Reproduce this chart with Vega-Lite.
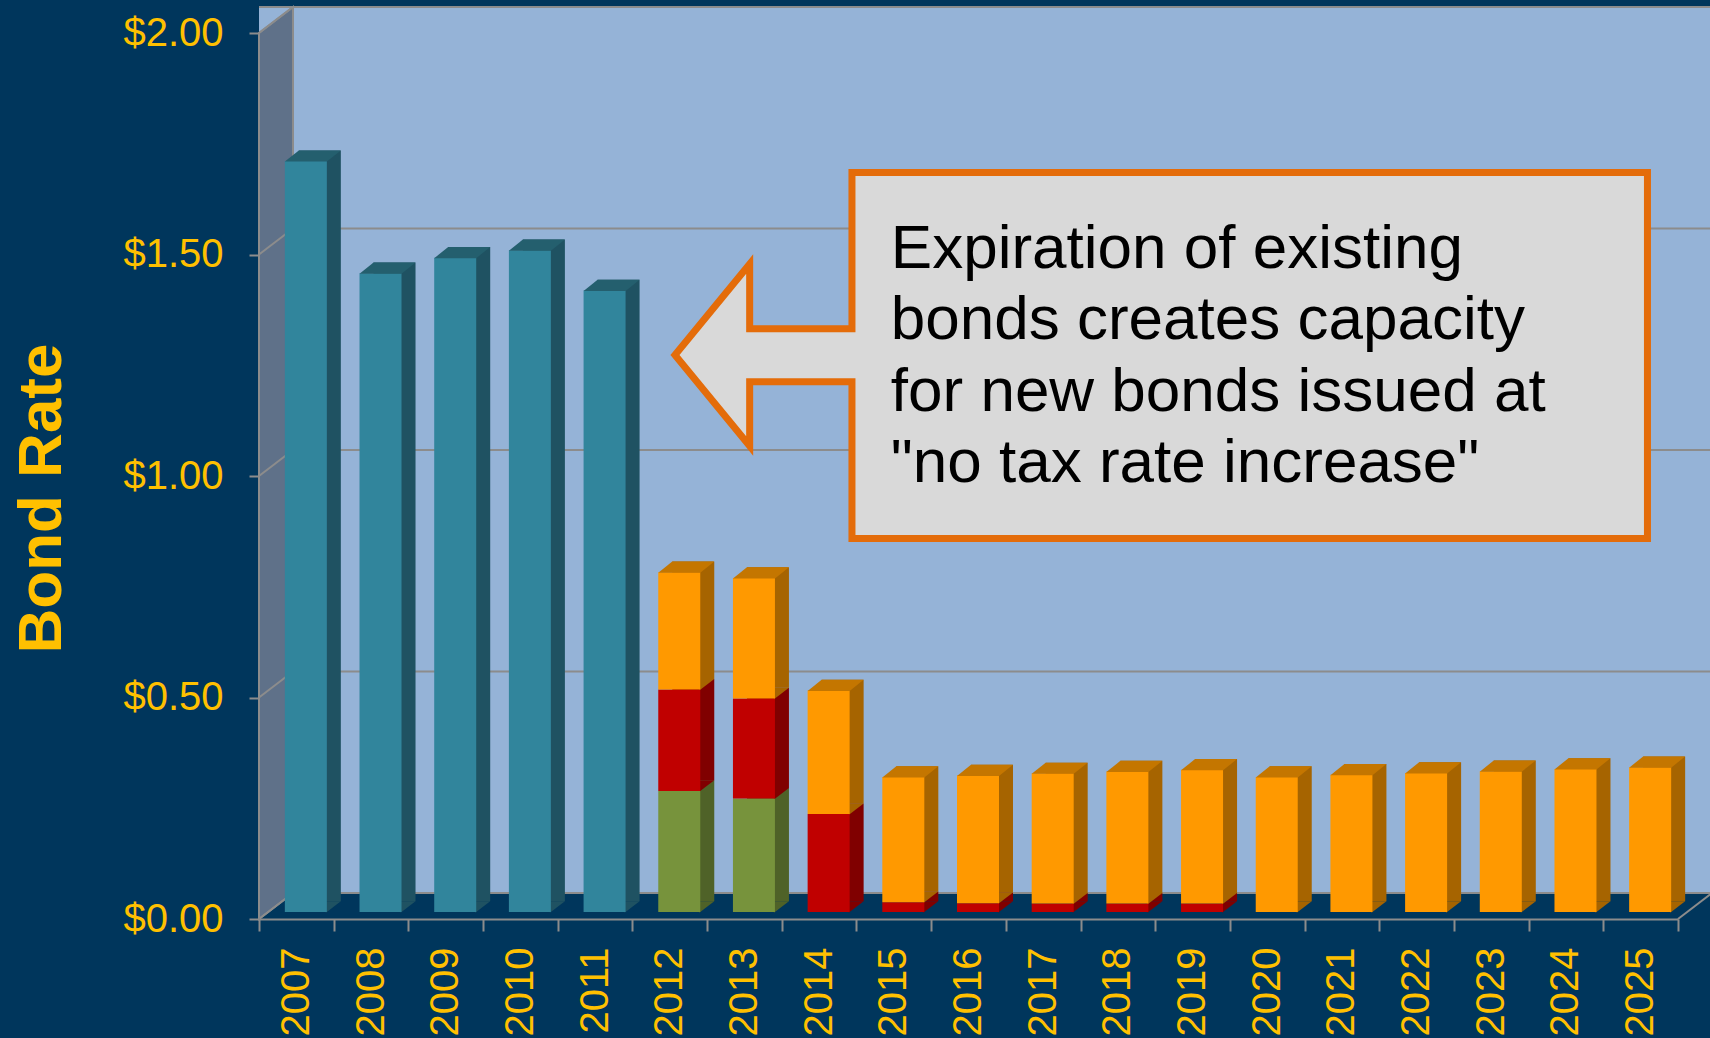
{
  "$schema": "https://vega.github.io/schema/vega-lite/v6.json",
  "width": 1419,
  "height": 886,
  "autosize": {"type": "none"},
  "padding": {"left": 259, "top": 33, "right": 32, "bottom": 119},
  "background": "#00365C",
  "config": {
    "view": {"stroke": null},
    "axisY": {
      "grid": false,
      "domainColor": "#8C8C8C", "domainWidth": 2,
      "tickColor": "#8C8C8C", "tickWidth": 2, "tickSize": 10,
      "labelColor": "#FFC000", "labelFont": "Liberation Sans", "labelFontSize": 40, "labelPadding": 26,
      "titleColor": "#FFC000", "titleFont": "Liberation Sans",
      "titleFontSize": 62, "titleFontWeight": "bold", "titleAngle": -90,
      "titleAlign": "center", "titleBaseline": "alphabetic", "titleX": -199, "titleY": 465
    },
    "axisX": {
      "tickBand": "extent", "labelAngle": 270, "labelOverlap": false,
      "labelColor": "#FFC000", "labelFont": "Liberation Sans", "labelFontSize": 40, "labelPadding": 16,
      "tickSize": 12, "tickColor": "#8C8C8C", "tickWidth": 2,
      "domainColor": "#8C8C8C", "domainWidth": 2, "grid": false
    }
  },
  "datasets": {
    "bonds": [
      {"year": "2007", "series": "Series 1", "value": 1.695},
      {"year": "2008", "series": "Series 1", "value": 1.442},
      {"year": "2009", "series": "Series 1", "value": 1.477},
      {"year": "2010", "series": "Series 1", "value": 1.494},
      {"year": "2011", "series": "Series 1", "value": 1.403},
      {"year": "2012", "series": "Series 2", "value": 0.273},
      {"year": "2013", "series": "Series 2", "value": 0.256},
      {"year": "2012", "series": "Series 3", "value": 0.229},
      {"year": "2013", "series": "Series 3", "value": 0.226},
      {"year": "2014", "series": "Series 3", "value": 0.221},
      {"year": "2015", "series": "Series 3", "value": 0.022},
      {"year": "2016", "series": "Series 3", "value": 0.020},
      {"year": "2017", "series": "Series 3", "value": 0.019},
      {"year": "2018", "series": "Series 3", "value": 0.019},
      {"year": "2019", "series": "Series 3", "value": 0.019},
      {"year": "2012", "series": "Series 4", "value": 0.265},
      {"year": "2013", "series": "Series 4", "value": 0.272},
      {"year": "2014", "series": "Series 4", "value": 0.279},
      {"year": "2015", "series": "Series 4", "value": 0.283},
      {"year": "2016", "series": "Series 4", "value": 0.288},
      {"year": "2017", "series": "Series 4", "value": 0.294},
      {"year": "2018", "series": "Series 4", "value": 0.298},
      {"year": "2019", "series": "Series 4", "value": 0.302},
      {"year": "2020", "series": "Series 4", "value": 0.305},
      {"year": "2021", "series": "Series 4", "value": 0.310},
      {"year": "2022", "series": "Series 4", "value": 0.314},
      {"year": "2023", "series": "Series 4", "value": 0.318},
      {"year": "2024", "series": "Series 4", "value": 0.323},
      {"year": "2025", "series": "Series 4", "value": 0.327}
    ],
    "grid": [{"v": 0}, {"v": 0.5}, {"v": 1}, {"v": 1.5}, {"v": 2}]
  },
  "layer": [
    {
      "data": {"values": [{"lo": 0, "hi": 2}]},
      "mark": {"type": "rect", "fill": "#95B3D7", "xOffset": 34, "x2Offset": 80, "yOffset": -26, "y2Offset": -26},
      "encoding": {
        "y": {
          "field": "lo", "type": "quantitative", "title": "Bond Rate",
          "scale": {"domain": [0, 2], "nice": false, "zero": true},
          "axis": {"values": [0, 0.5, 1, 1.5, 2], "format": "$.2f", "title": "Bond Rate"}
        },
        "y2": {"field": "hi"}
      }
    },
    {
      "data": {"name": "grid"},
      "mark": {"type": "rule", "color": "#8C8C8C", "strokeWidth": 2, "xOffset": 34, "x2Offset": 80, "yOffset": -26},
      "encoding": {
        "y": {"field": "v", "type": "quantitative", "title": "Bond Rate", "scale": {"domain": [0, 2], "nice": false}}
      }
    },
    {
      "data": {"values": [{"v": 0}]},
      "mark": {"type": "point", "shape": "M0,0L34,-26L34,-912L0,-886Z", "size": 4, "filled": true, "fill": "#5F7189", "stroke": "#8C8C8C", "strokeWidth": 2, "opacity": 1},
      "encoding": {
        "x": {"datum": "2007", "type": "nominal", "title": null, "bandPosition": 0, "scale": {"type": "band", "paddingInner": 0, "paddingOuter": 0}},
        "y": {"field": "v", "type": "quantitative", "title": "Bond Rate", "scale": {"domain": [0, 2], "nice": false}}
      }
    },
    {
      "data": {"name": "grid"},
      "mark": {"type": "point", "shape": "M0,0L34,-26", "size": 4, "filled": false, "stroke": "#8C8C8C", "strokeWidth": 2, "opacity": 1},
      "encoding": {
        "x": {"datum": "2007", "type": "nominal", "title": null, "bandPosition": 0, "scale": {"type": "band", "paddingInner": 0, "paddingOuter": 0}},
        "y": {"field": "v", "type": "quantitative", "title": "Bond Rate", "scale": {"domain": [0, 2], "nice": false}}
      }
    },
    {
      "data": {"values": [{"v": 0}]},
      "mark": {"type": "point", "shape": "M0,0L34,-26", "size": 4, "filled": false, "stroke": "#8C8C8C", "strokeWidth": 2, "opacity": 1},
      "encoding": {
        "x": {"datum": "2025", "type": "nominal", "title": null, "bandPosition": 1, "scale": {"type": "band", "paddingInner": 0, "paddingOuter": 0}},
        "y": {"field": "v", "type": "quantitative", "title": "Bond Rate", "scale": {"domain": [0, 2], "nice": false}}
      }
    },
    {
      "data": {"name": "bonds"},
      "transform": [{"stack": "value", "groupby": ["year"], "sort": [{"field": "series", "order": "ascending"}], "as": ["v0", "v1"]}],
      "mark": {"type": "bar", "width": 42, "xOffset": 23.5, "yOffset": -17.7, "y2Offset": -17.7},
      "encoding": {
        "x": {"field": "year", "type": "nominal", "title": null, "scale": {"type": "band", "paddingInner": 0, "paddingOuter": 0}},
        "y": {"field": "v1", "type": "quantitative", "title": "Bond Rate", "scale": {"domain": [0, 2], "nice": false}},
        "y2": {"field": "v0"},
        "fill": {"field": "series", "type": "nominal", "scale": {"domain": ["Series 1", "Series 2", "Series 3", "Series 4"], "range": ["#1F5262", "#4F6228", "#800000", "#A66400"]}, "legend": null}
      }
    },
    {
      "data": {"name": "bonds"},
      "transform": [{"stack": "value", "groupby": ["year"], "sort": [{"field": "series", "order": "ascending"}], "as": ["v0", "v1"]}],
      "mark": {"type": "point", "shape": "M20,0.8L35,-10.7L20,-10.7Z", "size": 4, "filled": true, "strokeWidth": 0, "opacity": 1, "xOffset": 9.5, "yOffset": -7},
      "encoding": {
        "x": {"field": "year", "type": "nominal", "title": null, "scale": {"type": "band", "paddingInner": 0, "paddingOuter": 0}},
        "y": {"field": "v0", "type": "quantitative", "title": "Bond Rate", "scale": {"domain": [0, 2], "nice": false}},
        "fill": {"field": "series", "type": "nominal", "scale": {"domain": ["Series 1", "Series 2", "Series 3", "Series 4"], "range": ["#1F5262", "#4F6228", "#800000", "#A66400"]}, "legend": null}
      }
    },
    {
      "data": {"name": "bonds"},
      "transform": [{"stack": "value", "groupby": ["year"], "sort": [{"field": "series", "order": "ascending"}], "as": ["v0", "v1"]}],
      "mark": {"type": "bar", "width": 42, "xOffset": 9.5, "yOffset": -7, "y2Offset": -7},
      "encoding": {
        "x": {"field": "year", "type": "nominal", "title": null, "scale": {"type": "band", "paddingInner": 0, "paddingOuter": 0}},
        "y": {"field": "v1", "type": "quantitative", "title": "Bond Rate", "scale": {"domain": [0, 2], "nice": false}},
        "y2": {"field": "v0"},
        "fill": {"field": "series", "type": "nominal", "scale": {"domain": ["Series 1", "Series 2", "Series 3", "Series 4"], "range": ["#31859C", "#77933C", "#C00000", "#FF9900"]}, "legend": null}
      }
    },
    {
      "data": {"name": "bonds"},
      "transform": [
        {"stack": "value", "groupby": ["year"], "sort": [{"field": "series", "order": "ascending"}], "as": ["v0", "v1"]},
        {"joinaggregate": [{"op": "max", "field": "v1", "as": "tot"}], "groupby": ["year"]},
        {"filter": "datum.v1 >= datum.tot"}
      ],
      "mark": {"type": "point", "shape": "M-21,0.5L21,0.5L35,-10.7L-7,-10.7Z", "size": 4, "filled": true, "strokeWidth": 0, "opacity": 1, "xOffset": 9.5, "yOffset": -7},
      "encoding": {
        "x": {"field": "year", "type": "nominal", "title": null, "scale": {"type": "band", "paddingInner": 0, "paddingOuter": 0}},
        "y": {"field": "v1", "type": "quantitative", "title": "Bond Rate", "scale": {"domain": [0, 2], "nice": false}},
        "fill": {"field": "series", "type": "nominal", "scale": {"domain": ["Series 1", "Series 2", "Series 3", "Series 4"], "range": ["#245F6E", "#60772F", "#A00000", "#C47600"]}, "legend": null}
      }
    },
    {
      "data": {"values": [{"year": "2012"}]},
      "mark": {"type": "point", "shape": "M182.2,-192.8L977.7,-192.8L977.7,173.3L182.2,173.3L182.2,16.5L79.9,16.5L79.9,80.8L5.2,-10.3L79.9,-101.3L79.9,-36.6L182.2,-36.6Z", "size": 4, "filled": true, "fill": "#D9D9D9", "stroke": "#E46C0A", "strokeWidth": 7, "strokeJoin": "miter", "strokeMiterLimit": 10, "opacity": 1},
      "encoding": {
        "x": {"field": "year", "type": "nominal", "title": null, "scale": {"type": "band", "paddingInner": 0, "paddingOuter": 0}},
        "y": {"datum": 1.25, "type": "quantitative", "title": "Bond Rate", "scale": {"domain": [0, 2], "nice": false}}
      }
    },
    {
      "data": {"values": [{"year": "2015"}]},
      "mark": {
        "type": "text",
        "text": ["Expiration of existing", "bonds creates capacity", "for new bonds issued at", "\"no tax rate increase\""],
        "align": "left", "baseline": "alphabetic", "dx": -3, "lineHeight": 71.5,
        "font": "Liberation Sans", "fontSize": 62, "color": "#000000"
      },
      "encoding": {
        "x": {"field": "year", "type": "nominal", "title": null, "scale": {"type": "band", "paddingInner": 0, "paddingOuter": 0}},
        "y": {"datum": 1.47, "type": "quantitative", "title": "Bond Rate", "scale": {"domain": [0, 2], "nice": false}}
      }
    }
  ],
  "resolve": {"scale": {"fill": "independent"}}
}
